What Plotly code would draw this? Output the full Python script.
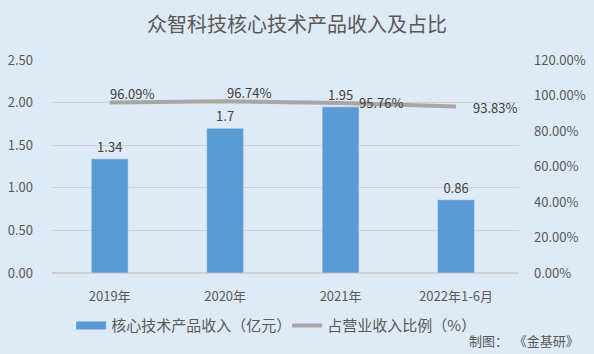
import plotly.graph_objects as go

categories = ["2019年", "2020年", "2021年", "2022年1-6月"]
revenue = [1.34, 1.70, 1.95, 0.86]
revenue_labels = ["1.34", "1.7", "1.95", "0.86"]
ratio = [96.09, 96.74, 95.76, 93.83]
ratio_labels = ["96.09%", "96.74%", "95.76%", "93.83%"]
left_ticks = [0, 0.5, 1.0, 1.5, 2.0, 2.5]
left_tick_text = ["0.00", "0.50", "1.00", "1.50", "2.00", "2.50"]
right_ticks = [0, 20, 40, 60, 80, 100, 120]
right_tick_text = ["0.00%", "20.00%", "40.00%", "60.00%", "80.00%", "100.00%", "120.00%"]

# label placement offsets (pixels) for the ratio labels
label_dx = [-2, 0, 16, 15]
label_dy = [9, 9, 1, -1]

font_family = "Microsoft YaHei, Noto Sans CJK SC, sans-serif"
txt = "#595959"
bg = "#DEEAF6"
bar_color = "#5B9BD5"
line_color = "#A9A6A4"

fig = go.Figure()
fig.add_trace(go.Bar(
    x=categories, y=revenue, name="核心技术产品收入（亿元）", showlegend=False,
    marker_color=bar_color, width=0.32,
    text=revenue_labels, textposition="outside", cliponaxis=False,
    textfont=dict(size=13, color="#404040"),
))
fig.add_trace(go.Scatter(
    x=categories, y=ratio, name="占营业收入比例（%）", yaxis="y2", showlegend=False,
    mode="lines", line=dict(color=line_color, width=4),
))
for c, v, t, dx, dy in zip(categories, ratio, ratio_labels, label_dx, label_dy):
    fig.add_annotation(x=c, y=v, xref="x", yref="y2", text=t, showarrow=False,
                       xanchor="left", yanchor="middle", xshift=dx, yshift=dy,
                       font=dict(size=13, color="#404040"))

# legend entries (wide swatches like the reference)
fig.add_trace(go.Scatter(x=[None], y=[None], mode="lines", name="核心技术产品收入（亿元）",
                         line=dict(color=bar_color, width=8)))
fig.add_trace(go.Scatter(x=[None], y=[None], mode="lines", name="占营业收入比例（%）",
                         line=dict(color=line_color, width=4)))

fig.update_layout(
    width=594, height=354,
    paper_bgcolor=bg, plot_bgcolor=bg,
    margin=dict(l=52, r=75, t=60, b=78),
    font=dict(family=font_family, color=txt, size=13),
    title=dict(text="众智科技核心技术产品收入及占比", x=0.5, xanchor="center",
               y=0.93, yanchor="middle", font=dict(size=20, color=txt)),
    showlegend=True,
    legend=dict(orientation="h", x=0.041, xanchor="left", y=-0.17, yanchor="top",
                font=dict(size=15, color=txt), bgcolor="rgba(0,0,0,0)",
                entrywidth=171, itemwidth=30),
    xaxis=dict(showgrid=False, showline=False, ticks="", automargin=False,
               ticklabelstandoff=14, tickfont=dict(size=13, color=txt)),
    yaxis=dict(range=[0, 2.5], tickvals=left_ticks, ticktext=left_tick_text,
               gridcolor="#D0D0D0", gridwidth=1, zeroline=True, zerolinecolor="#D0D0D0",
               showline=False, ticks="", ticklabelstandoff=18, automargin=False,
               tickfont=dict(size=13, color=txt)),
    yaxis2=dict(range=[0, 120], tickvals=right_ticks, ticktext=right_tick_text,
                overlaying="y", side="right", showgrid=False, zeroline=False,
                showline=False, ticks="", ticklabelstandoff=14, automargin=False,
                tickfont=dict(size=13, color=txt)),
)

fig.add_annotation(text="制图：  《金基研》", xref="paper", yref="paper",
                   x=1.0, y=-0.372, xanchor="right", yanchor="bottom", xshift=62, showarrow=False,
                   font=dict(size=13, color=txt))

fig.write_html("out.html")
